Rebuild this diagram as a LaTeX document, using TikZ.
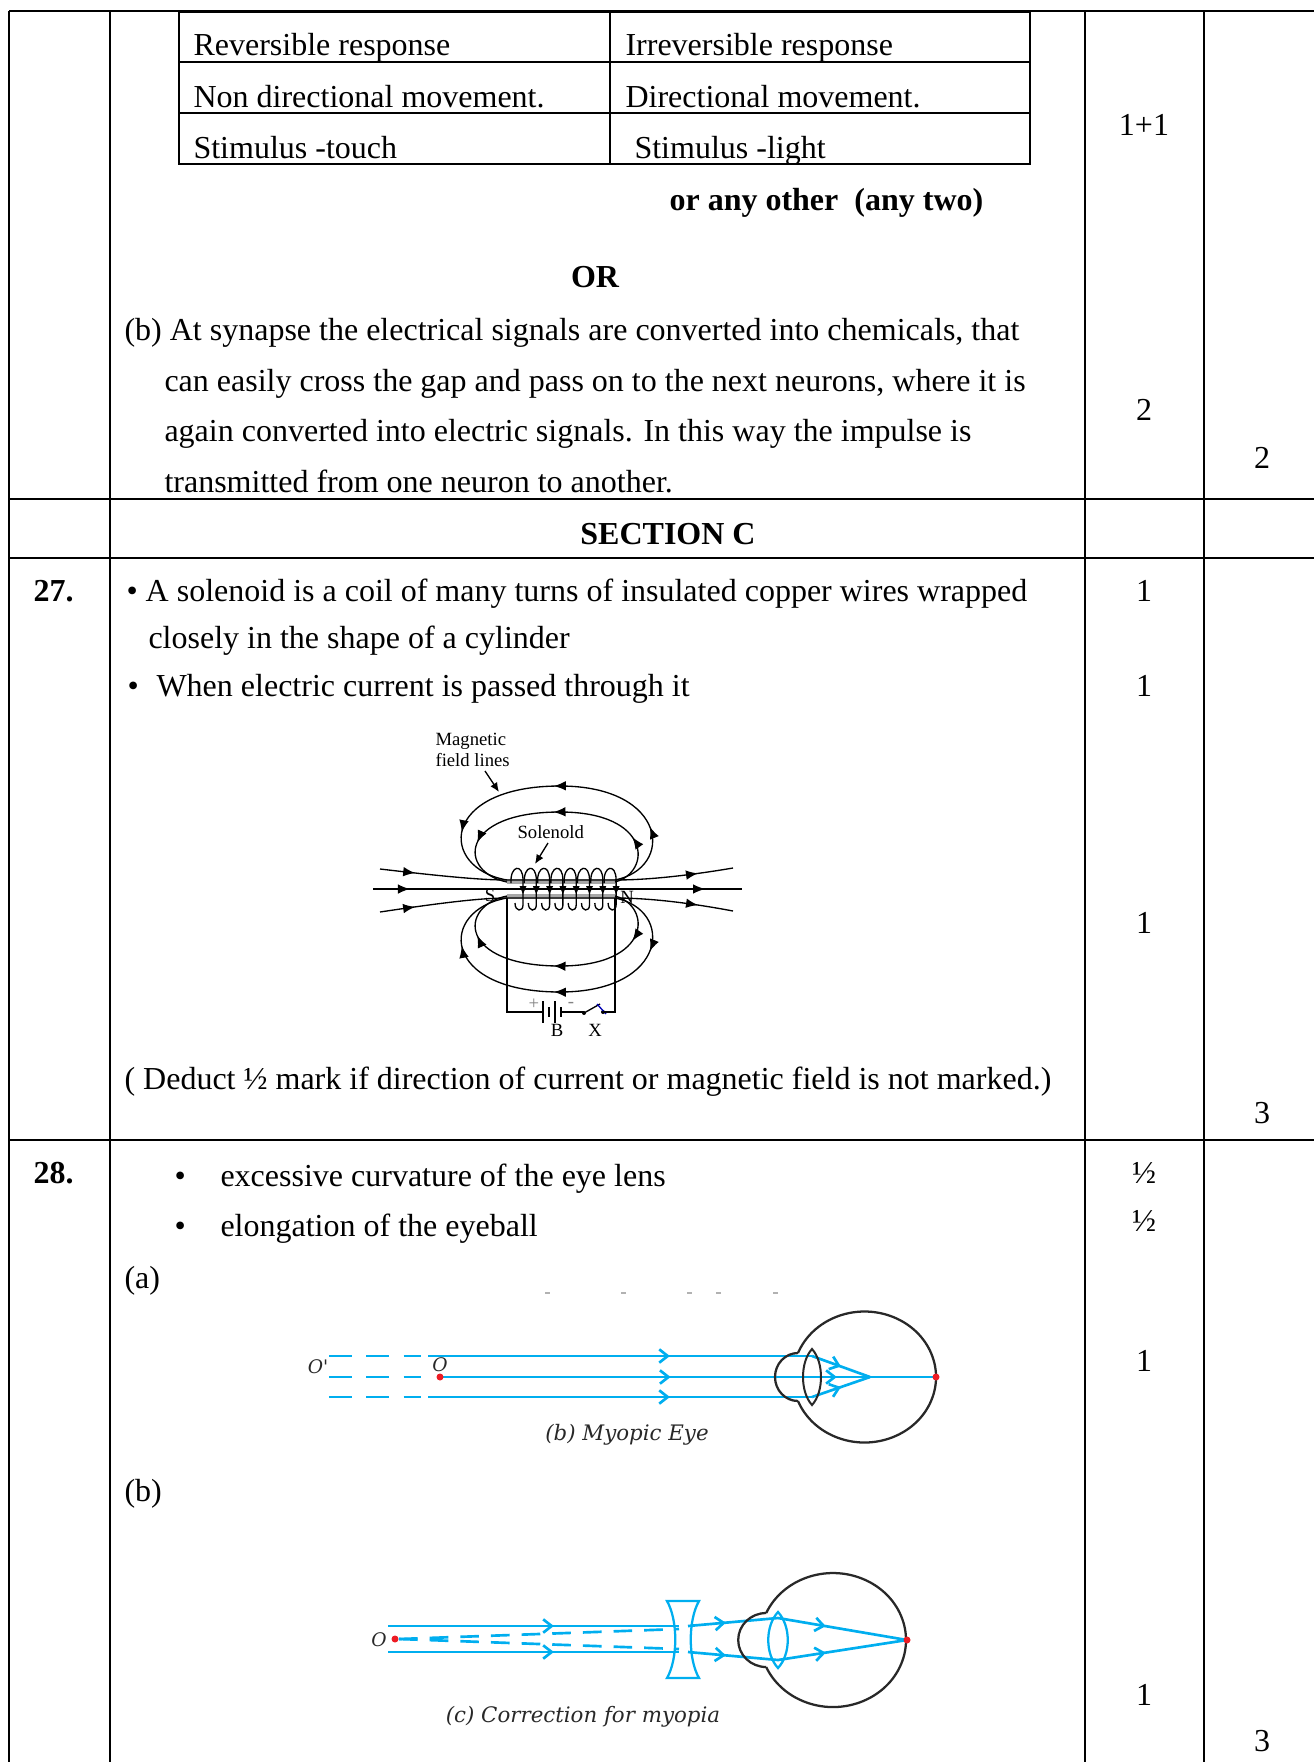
\documentclass[tikz,border=0pt]{standalone}
\usepackage{fontspec}
\setmainfont{Liberation Serif}
\newfontfamily\figfont{DejaVu Serif}
\usetikzlibrary{arrows.meta,decorations.markings}
\definecolor{raycyan}{RGB}{0,174,239}
\definecolor{dotred}{RGB}{237,28,36}
\definecolor{eyeline}{RGB}{40,40,40}
\definecolor{solgrey}{RGB}{130,130,130}
\begin{document}
\begin{tikzpicture}[x=0.375pt,y=-0.375pt,
  gridline/.style={line width=1.1pt},
  tabline/.style={line width=0.95pt},
  tx/.style={anchor=base west,inner sep=0pt,yshift=-0.75pt,font=\fontsize{12pt}{14pt}\selectfont},
  txb/.style={anchor=base west,inner sep=0pt,yshift=-0.75pt,font=\fontsize{12pt}{14pt}\selectfont\bfseries},
  tc/.style={anchor=base,inner sep=0pt,yshift=-0.75pt,font=\fontsize{12pt}{14pt}\selectfont},
  tb/.style={anchor=base,inner sep=0pt,yshift=-0.75pt,font=\fontsize{12pt}{14pt}\selectfont\bfseries},
  lbl/.style={inner sep=0pt,font=\fontsize{7pt}{8pt}\selectfont},
  capt/.style={anchor=base,inner sep=0pt,text=eyeline,font=\figfont\itshape\fontsize{8pt}{9pt}\selectfont},
  olbl/.style={inner sep=0pt,text=eyeline,font=\figfont\itshape\fontsize{7pt}{8pt}\selectfont},
  fieldln/.style={line width=0.5pt},
  arrs/.style={postaction={decorate,decoration={markings,mark=at position #1 with {\arrow{Latex[length=4.5pt,width=3.6pt]}}}}},
  raypath/.style={draw=raycyan,line width=1pt},
  rayarr/.style={postaction={decorate,decoration={markings,mark=at position #1 with {\arrow[raycyan]{Straight Barb[length=3.2pt,width=5pt]}}}}},
  eyeo/.style={draw=eyeline,line width=0.85pt},
]
\useasboundingbox (0,0) rectangle (1314,1762);

% ---------- outer grid ----------
\draw[gridline] (9,11) -- (1314,11);
\draw[gridline] (9,499) -- (1314,499);
\draw[gridline] (9,558) -- (1314,558);
\draw[gridline] (9,1140) -- (1314,1140);
\foreach \x in {9,110,1085,1204} \draw[gridline] (\x,11) -- (\x,1762);

% ---------- inner table ----------
\draw[tabline] (179,12) rectangle (1030,164);
\draw[tabline] (179,62) -- (1030,62) (179,113) -- (1030,113) (610,12) -- (610,164);
\node[tx] (r1a) at (193,54) {Reversible response};
\node[tx] (r1b) at (625,54) {Irreversible response};
\node[tx] (r2a) at (193,106) {Non directional movement.};
\node[tx] (r2b) at (625,106) {Directional movement.};
\node[tx] (r3a) at (193,157) {Stimulus -touch};
\node[tx] (r3b) at (634,157) {Stimulus -light};
\node[txb] (anyo) at (669,209) {or any other~ (any two)};
\node[tc] (m11) at (1144,134) {1+1};

\node[tb] (orr) at (595,285) {OR};
\node[tx] (p1) at (124,338) {(b) At synapse the electrical signals are converted into chemicals, that};
\node[tx] (p2) at (164,389) {can easily cross the gap and pass on to the next neurons, where it is};
\node[tx] (p3) at (164,439) {again converted into electric signals. In this way the impulse is};
\node[tx] (p4) at (164,490) {transmitted from one neuron to another.};
\node[tc] (m2) at (1144,418) {2};
\node[tc] (s2) at (1262,466) {2};

\node[tb] (sec) at (668,542) {SECTION C};

% ---------- row 27 ----------
\node[txb] (q27) at (33,599) {27.};
\node[tx] (b1) at (126,599) {• A solenoid is a coil of many turns of insulated copper wires wrapped};
\node[tx] (b1b) at (148,646) {closely in the shape of a cylinder};
\node[tx] (b2dot) at (127,694) {•};
\node[tx] (b2) at (156,694) {When electric current is passed through it};
\node[tc] (m27a) at (1144,599) {1};
\node[tc] (m27b) at (1144,694) {1};
\node[tc] (m27c) at (1144,931) {1};
\node[tx] (ded) at (124,1087) {( Deduct ½ mark if direction of current or magnetic field is not marked.)};
\node[tc] (s3a) at (1262,1121) {3};

% ---------- solenoid figure ----------
\fill[solgrey!70] (507,879) rectangle (615,884);
\fill[solgrey!70] (507,894) rectangle (615,899);
% field loops
\draw[fieldln,arrs=0.2,arrs=0.5,arrs=0.8] (615,880) .. controls (675,868) and (668,786) .. (560,786) .. controls (440,786) and (438,868) .. (507,880);
\draw[fieldln,arrs=0.2,arrs=0.5,arrs=0.8] (615,882) .. controls (652,872) and (652,812) .. (560,812) .. controls (458,812) and (458,872) .. (507,882);
\draw[fieldln,arrs=0.2,arrs=0.5,arrs=0.8] (615,898) .. controls (675,910) and (668,992) .. (560,992) .. controls (440,992) and (438,910) .. (507,898);
\draw[fieldln,arrs=0.2,arrs=0.5,arrs=0.8] (615,896) .. controls (652,906) and (652,966) .. (560,966) .. controls (458,966) and (458,906) .. (507,896);
% through lines
\draw[fieldln,arrs=0.1,arrs=0.9] (380,869) .. controls (440,876) and (480,880) .. (507,880) -- (615,880) .. controls (642,880) and (680,877) .. (733,868);
\draw[fieldln,arrs=0.1,arrs=0.9] (380,912) .. controls (440,903) and (480,898) .. (507,898) -- (615,898) .. controls (642,898) and (680,901) .. (733,911);
\draw[fieldln,arrs=0.1,arrs=0.9] (373,889) -- (742,889);
% coil turns
\foreach \i in {0,...,7}{
  \pgfmathsetmacro{\xa}{511+13.3*\i}
  \draw[line width=0.5pt] (\xa,883) .. controls ({\xa-1},865) and ({\xa+12},863) .. ({\xa+12},880) -- ({\xa+12},905) .. controls ({\xa+12},912) and ({\xa+4},912) .. ({\xa+4},903);
  \fill ({\xa+8.5},886) -- ({\xa+15.5},886) -- ({\xa+12},894) -- cycle;
}
% labels
\node[lbl,anchor=base west] (mfl1) at (435,745) {Magnetic};
\node[lbl,anchor=base west] (mfl2) at (435,766) {field lines};
\coordinate (ma) at (485,771);
\coordinate (mb) at (499,792);
\draw[fieldln,-{Latex[length=3.5pt,width=3pt]}] (ma) -- (mb);
\node[lbl,anchor=base west] (sol) at (517,838) {Solenold};
\coordinate (sa) at (548,843);
\coordinate (sb) at (535,864);
\draw[fieldln,-{Latex[length=3.5pt,width=3pt]}] (sa) -- (sb);
\node[lbl] (Sp) at (490,895) {S};
\node[lbl] (Np) at (627,897) {N};
% circuit
\draw[line width=0.5pt] (507,898) -- (507,1012) -- (543,1012);
\draw[line width=0.5pt] (543,1001) -- (543,1023);
\draw[line width=0.5pt] (549,1007) -- (549,1017);
\draw[line width=0.5pt] (555,1001) -- (555,1023);
\draw[line width=0.5pt] (561,1007) -- (561,1017);
\draw[line width=0.5pt] (561,1012) -- (584,1012);
\fill (584,1013) circle[radius=2];
\fill (603,1012) circle[radius=2];
\draw[line width=0.5pt] (584,1013) -- (600,1004);
\draw[blue!70!black,line width=0.5pt] (597,1004) -- (606,1014);
\draw[line width=0.5pt] (603,1012) -- (615,1012) -- (615,898);
\node[lbl,text=solgrey] (plus) at (534,1004) {+};
\node[lbl,text=solgrey] (minus) at (571,1005) {-};
\node[lbl] (Bl) at (557,1030) {B};
\node[lbl] (Xl) at (595,1030) {X};

% ---------- row 28 ----------
\node[txb] (q28) at (33,1181) {28.};
\node[tx] (c1dot) at (174,1184) {•};
\node[tx] (c1) at (220,1184) {excessive curvature of the eye lens};
\node[tx] (c2dot) at (174,1234) {•};
\node[tx] (c2) at (220,1234) {elongation of the eyeball};
\node[tc] (h1) at (1144,1181) {½};
\node[tc] (h2) at (1144,1229) {½};
\node[tx] (la) at (124,1286) {(a)};
\node[tx] (lb) at (124,1499) {(b)};
\node[tc] (m28a) at (1144,1369) {1};
\node[tc] (m28b) at (1144,1703) {1};
\node[tc] (s3b) at (1262,1749) {3};

% ---------- myopic eye ----------
\foreach \x in {545,621,687,716,773} \draw[gray!60,line width=0.5pt] (\x,1293) -- ({\x+5},1293);
\foreach \y in {1356,1377,1397} \draw[raypath,dash pattern=on 8.6pt off 5.4pt] (329,\y) -- (421,\y);
\draw[raypath,rayarr=0.63] (428,1356) -- (812,1356);
\draw[raypath,rayarr=0.63] (428,1397) -- (812,1397);
\draw[raypath,rayarr=0.465,rayarr=0.80] (440,1377) -- (936,1377);
\draw[raypath,rayarr=0.5] (812,1356) -- (870,1377);
\draw[raypath,rayarr=0.5] (812,1397) -- (870,1377);
\draw[eyeo] (798,1353) arc[start angle=201.5,end angle=518.5,x radius=71.5,y radius=65.5];
\draw[eyeo] (798,1353) arc[start angle=-90,end angle=-270,x radius=23,y radius=24];
\draw[eyeo,line width=0.75pt] (812,1349) .. controls (824,1362) and (824,1392) .. (812,1405) .. controls (800,1392) and (800,1362) .. cycle;
\fill[dotred] (440,1377) circle[radius=3.5];
\fill[dotred] (936,1377) circle[radius=3.5];
\node[olbl] (Op) at (318,1367) {O'};
\node[olbl] (Oa) at (440,1365) {O};
\node[capt] (capb) at (627,1440) {(b) Myopic Eye};

% ---------- correction for myopia ----------
\draw[raypath,rayarr=0.57] (388,1626) -- (679,1626);
\draw[raypath,rayarr=0.57] (388,1652) -- (679,1652);
\draw[raypath,dash pattern=on 7pt off 4.5pt] (399,1639) -- (679,1629);
\draw[raypath,dash pattern=on 7pt off 4.5pt] (399,1639) -- (679,1649);
\draw[raypath,line width=0.85pt] (667,1601) -- (699,1601) .. controls (688,1620) and (688,1659) .. (699,1678) -- (667,1678) .. controls (678,1659) and (678,1620) .. cycle;
\draw[raypath,rayarr=0.42] (688,1626) -- (778,1618);
\draw[raypath,rayarr=0.42] (688,1652) -- (778,1660);
\draw[raypath,rayarr=0.37] (778,1618) -- (907,1640);
\draw[raypath,rayarr=0.37] (778,1660) -- (907,1640);
\draw[eyeo] (766.2,1613) arc[start angle=203.8,end angle=516.2,x radius=73,y radius=67];
\draw[eyeo] (766.2,1613) arc[start angle=-90,end angle=-270,x radius=28,y radius=27];
\draw[raypath,line width=0.85pt] (778,1612) .. controls (791,1626) and (791,1654) .. (778,1668) .. controls (765,1654) and (765,1626) .. cycle;
\fill[dotred] (395,1639) circle[radius=3.5];
\fill[dotred] (907,1640) circle[radius=3.5];
\node[olbl] (Oc) at (379,1640) {O};
\node[capt] (capc) at (583,1722) {(c) Correction for myopia};
\end{tikzpicture}
\end{document}
